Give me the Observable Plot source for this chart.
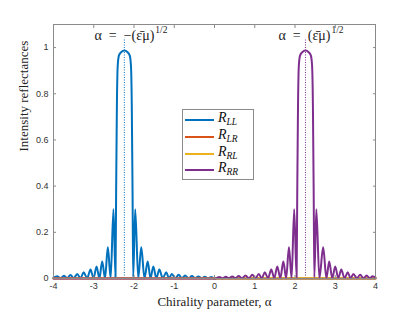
<!DOCTYPE html>
<html><head><meta charset="utf-8">
<script src="https://cdn.jsdelivr.net/npm/d3@7"></script>
<script src="https://cdn.jsdelivr.net/npm/@observablehq/plot@0.6"></script>
<style>
body{margin:0;background:#fff;}
#wrap{position:relative;width:415px;height:312px;}
.legend{position:absolute;left:182px;top:109px;width:72px;height:71px;border:1px solid #8a8a8a;background:#fff;box-sizing:border-box;font-family:"Liberation Serif",serif;}
.row{position:absolute;left:2px;height:16px;display:flex;align-items:center;}
.sw{width:29px;height:2px;margin-right:4px;}
.lab{font-style:italic;font-size:14px;color:#111;line-height:14px;}
.lab sub{font-size:9.5px;vertical-align:-3px;}
</style></head><body><div id="wrap"></div>
<script>
// R_LL (blue)
const alphaLL = [-4.00,-3.91,-3.825,-3.74,-3.66,-3.58,-3.495,-3.41,-3.33,-3.25,-3.165,-3.08,-3.005,-2.93,-2.86,-2.79,-2.72,-2.65,-2.58,-2.51,
  -2.46,-2.445,-2.425,-2.405,-2.375,-2.32,-2.24,-2.16,-2.105,-2.075,-2.055,-2.035,-2.02,
  -1.97,-1.895,-1.82,-1.74,-1.66,-1.59,-1.52,-1.445,-1.37,-1.285,-1.20,-1.13,-1.06,-0.975,-0.89,-0.81,-0.73,-0.645,-0.56,-0.48,-0.40,-0.32,-0.24,-0.16,-0.08,0.0,4.0];
const valueLL = [0.004,0.010,0.001,0.012,0.001,0.015,0.001,0.020,0.001,0.027,0.001,0.039,0.001,0.052,0.001,0.074,0.001,0.135,0.001,0.300,
  0.005,0.35,0.75,0.92,0.965,0.98,0.987,0.98,0.965,0.92,0.75,0.35,0.005,
  0.300,0.001,0.135,0.001,0.074,0.001,0.052,0.001,0.039,0.001,0.027,0.001,0.020,0.001,0.016,0.001,0.013,0.001,0.011,0.001,0.009,0.001,0.008,0.001,0.007,0.0,0.0];
// R_LR (red) and R_RL (yellow)
const alphaLR = [-4, 4];
const valueLR = [0, 0];
const alphaRL = [-4, 4];
const valueRL = [0.001, 0.001];
// R_RR (purple)
const alphaRR = [-4.0,0.0,0.04,0.12,0.20,0.28,0.36,0.44,0.52,0.60,0.685,0.77,0.855,0.94,1.02,1.10,1.175,1.25,1.33,1.41,1.485,1.56,1.635,1.71,1.78,1.85,1.915,1.98,
  2.04,2.055,2.075,2.095,2.125,2.18,2.26,2.34,2.395,2.425,2.445,2.465,2.48,
  2.53,2.605,2.70,2.78,2.85,2.925,3.00,3.075,3.15,3.23,3.31,3.38,3.45,3.535,3.62,3.70,3.78,3.855,3.93,4.0];
const valueRR = [0.0,0.0,0.001,0.007,0.001,0.008,0.001,0.009,0.001,0.011,0.001,0.013,0.001,0.016,0.001,0.020,0.001,0.027,0.001,0.039,0.001,0.052,0.001,0.074,0.001,0.135,0.001,0.300,
  0.005,0.35,0.75,0.92,0.965,0.98,0.987,0.98,0.965,0.92,0.75,0.35,0.005,
  0.300,0.001,0.135,0.001,0.074,0.001,0.052,0.001,0.039,0.001,0.027,0.001,0.020,0.001,0.016,0.001,0.013,0.001,0.010,0.004];

const seriesNames = ["LL","LR","RL","RR"];
const seriesColors = ["#0072BD","#D95319","#EDB120","#7E2F8E"];
const xTicks = [-4,-3,-2,-1,0,1,2,3,4];
const yTicks = [0,0.2,0.4,0.6,0.8,1];
const peakAlpha = [-2.24, 2.26];
const peakTop = [1.04, 1.04];
const annotMain = ["α\u2002=\u2002−(ε\u0304μ)", "α\u2002=\u2002(ε\u0304μ)"];
const annotSup = ["1/2", "1/2"];
const xLabel = "Chirality parameter, α";
const yLabel = "Intensity reflectances";

const rows = (a, v) => a.map((x, i) => ({alpha: x, value: v[i]}));
const LL = rows(alphaLL, valueLL), LR = rows(alphaLR, valueLR), RL = rows(alphaRL, valueRL), RR = rows(alphaRR, valueRR);
const peaks = peakAlpha.map((p, i) => ({alpha: p, top: peakTop[i], main: annotMain[i], sup: annotSup[i], color: i === 0 ? seriesColors[0] : seriesColors[3]}));

const axisStroke = "#8a8a8a";
const tickFill = "#333";
const serif = "'Liberation Serif', serif";

const chart = Plot.plot({
  width: 415, height: 312,
  marginLeft: 53, marginRight: 40, marginTop: 24, marginBottom: 34,
  x: {domain: [-4, 4]},
  y: {domain: [0, 1.1]},
  style: {fontFamily: "'Liberation Sans', sans-serif", fontSize: "9px", background: "white", color: "#262626"},
  marks: [
    Plot.ruleX(peaks, {x: "alpha", y1: 0, y2: "top", stroke: "color", strokeWidth: 1, strokeDasharray: "1,1.5"}),
    Plot.line(LL, {x: "alpha", y: "value", stroke: seriesColors[0], strokeWidth: 2, curve: "monotone-x"}),
    Plot.line(LR, {x: "alpha", y: "value", stroke: seriesColors[1], strokeWidth: 2}),
    Plot.line(RL, {x: "alpha", y: "value", stroke: seriesColors[2], strokeWidth: 2}),
    Plot.line(RR, {x: "alpha", y: "value", stroke: seriesColors[3], strokeWidth: 2, curve: "monotone-x"}),
    Plot.frame({stroke: axisStroke}),
    Plot.axisX({ticks: xTicks, anchor: "bottom", tickSize: -3, tickPadding: 7, stroke: axisStroke, fill: tickFill, tickFormat: d => String(d), label: null}),
    Plot.axisX({ticks: xTicks, anchor: "top", tickSize: -3, tickPadding: 0, stroke: axisStroke, tickFormat: () => "", label: null}),
    Plot.axisY({ticks: yTicks, anchor: "left", tickSize: -3, tickPadding: 8, stroke: axisStroke, fill: tickFill, tickFormat: d => String(d), label: null}),
    Plot.axisY({ticks: yTicks, anchor: "right", tickSize: -3, tickPadding: 0, stroke: axisStroke, tickFormat: () => "", label: null}),
    Plot.text([peaks[0]], {x: "alpha", y: 1.052, text: "main", textAnchor: "end", dx: 30, fontFamily: serif, fontSize: 14, fill: "#222"}),
    Plot.text([peaks[0]], {x: "alpha", y: 1.052, text: "sup", textAnchor: "start", dx: 31, dy: -6, fontFamily: serif, fontSize: 9.5, fill: "#222"}),
    Plot.text([peaks[1]], {x: "alpha", y: 1.052, text: "main", textAnchor: "end", dx: 25, fontFamily: serif, fontSize: 14, fill: "#222"}),
    Plot.text([peaks[1]], {x: "alpha", y: 1.052, text: "sup", textAnchor: "start", dx: 26, dy: -6, fontFamily: serif, fontSize: 9.5, fill: "#222"}),
    Plot.text([xLabel], {frameAnchor: "bottom", text: d => d, dy: 27, fontFamily: serif, fontSize: 13, fill: "#222"}),
    Plot.text([yLabel], {frameAnchor: "left", text: d => d, dx: -30, rotate: -90, fontFamily: serif, fontSize: 13, fill: "#222"})
  ]
});
const wrap = document.getElementById("wrap");
wrap.appendChild(chart);

// legend
const legend = document.createElement("div");
legend.className = "legend";
seriesNames.forEach((n, i) => {
  const r = document.createElement("div");
  r.className = "row";
  r.style.top = (2 + i * 16.8) + "px";
  r.innerHTML = `<span class="sw" style="background:${seriesColors[i]}"></span><span class="lab">R<sub>${n}</sub></span>`;
  legend.appendChild(r);
});
wrap.appendChild(legend);
</script>
</body></html>
